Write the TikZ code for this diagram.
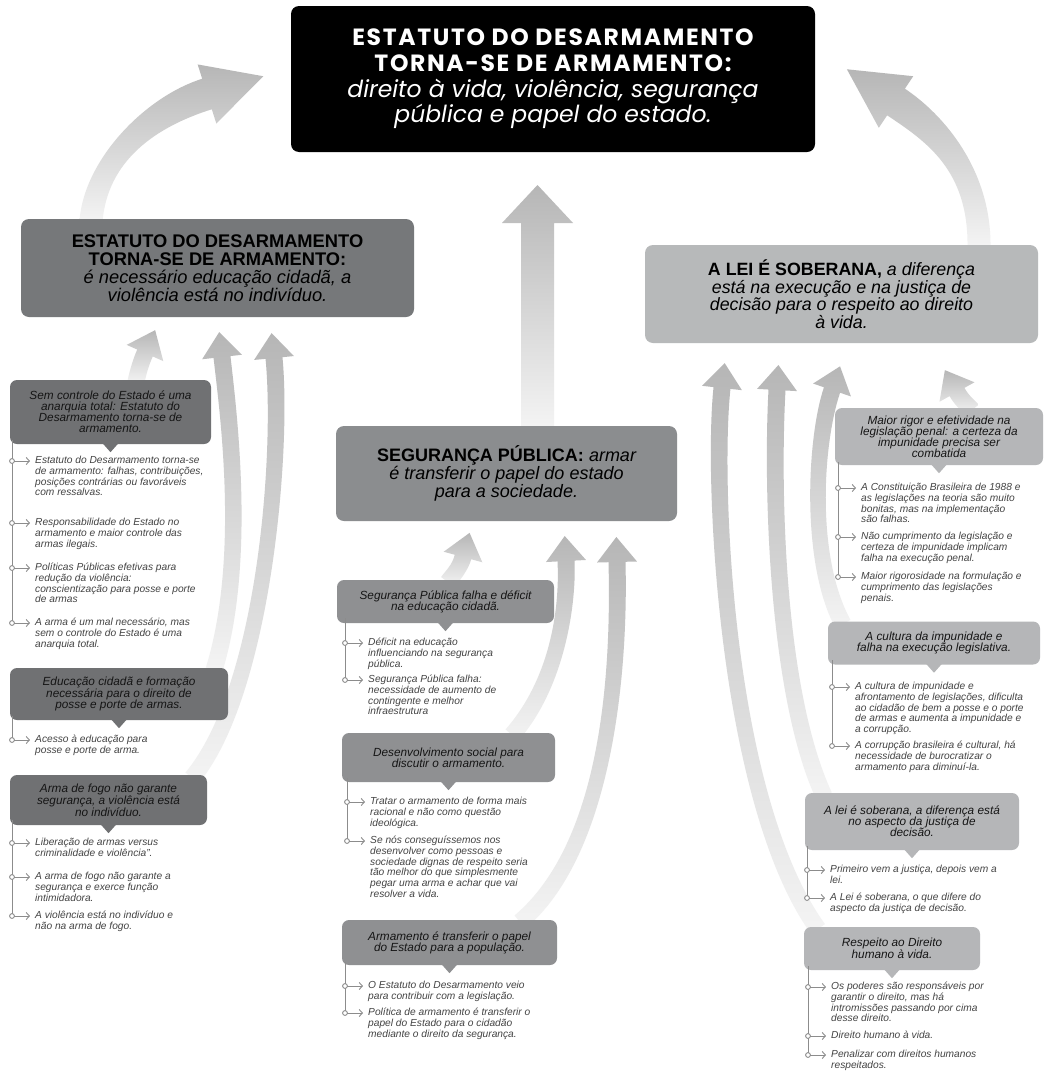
\documentclass[tikz,border=0pt]{standalone}
\usepackage{fontspec}
\setmainfont{Liberation Sans}
\newfontfamily\popf{Poppins}
\newfontfamily\popb[LetterSpace=7]{Poppins}
\usetikzlibrary{calc,arrows.meta}
\definecolor{boxA}{HTML}{76787A}
\definecolor{boxB}{HTML}{8B8D8F}
\definecolor{boxC}{HTML}{B7B9BA}
\definecolor{subA}{HTML}{707173}
\definecolor{subB}{HTML}{8F9092}
\definecolor{subC}{HTML}{B5B6B8}
\definecolor{ahead}{HTML}{B6B6B6}
\definecolor{atail}{HTML}{F4F4F4}
\definecolor{tline}{HTML}{8C8C8C}
\definecolor{itxt}{HTML}{444444}
\definecolor{ttxt}{HTML}{151515}
% fat curved arrow: P0 P1 P2 P3, tail half width, head-base half width, head half width, head length
\newcommand\fatarrow[8]{%
\shade[top color=ahead, bottom color=atail]
 ($(#1)!#5!90:(#2)$) .. controls ($(#2)!#5!-90:(#1)$) and ($(#3)!#6!90:(#4)$) .. ($(#4)!#6!-90:(#3)$)
 -- ($(#4)!#7!-90:(#3)$) -- ($(#4)!-#8!(#3)$) -- ($(#4)!#7!90:(#3)$) -- ($(#4)!#6!90:(#3)$)
 .. controls ($(#3)!#6!-90:(#4)$) and ($(#2)!#5!90:(#1)$) .. ($(#1)!#5!-90:(#2)$) -- cycle;}
\newcommand\subbox[7]{%
 \node[subbox, fill=#2, minimum width=#5pt, minimum height=#6pt] (#1) at (#3,#4) {#7};
 \fill[#2] ($(#1.south)+(-8,-1)$) -- ($(#1.south)+(8,-1)$) -- ($(#1.south)+(0,8)$) -- cycle;}
\newcommand\itm[4]{%
 \draw[tl, fill=white] (#2,#3) circle (2.4);
 \draw[tl, -{Straight Barb[length=3.2pt,width=7pt]}] (#2+2.4,#3) -- (#2+18,#3);
 \node[itemtext] (#1) at (#2+23,#3-6.4) {\rule{0pt}{9pt}#4};}
\begin{document}
\begin{tikzpicture}[x=1pt,y=-1pt,
  mainbox/.style={rounded corners=8pt, inner sep=0pt, align=center},
  subbox/.style={rounded corners=7pt, inner sep=0pt, align=center, text=ttxt,
     font=\itshape\fontsize{11.8}{11}\selectfont},
  itemtext/.style={anchor=north west, inner sep=0pt, align=left, text=itxt,
     font=\itshape\fontsize{10.2}{10.7}\selectfont},
  tl/.style={draw=tline, line width=0.9pt}]
\useasboundingbox[fill=white] (0,0) rectangle (1049,1079);

% ---------- arrows (behind) ----------
\coordinate (ba0) at (91,221);  \coordinate (ba1) at (96,160);  \coordinate (ba2) at (150,112); \coordinate (ba3) at (207,94);
\fatarrow{ba0}{ba1}{ba2}{ba3}{11.5pt}{16pt}{31pt}{59pt}
\coordinate (bb0) at (979,247); \coordinate (bb1) at (980,170); \coordinate (bb2) at (935,128); \coordinate (bb3) at (896,102);
\fatarrow{bb0}{bb1}{bb2}{bb3}{11.5pt}{16pt}{31pt}{59pt}
\coordinate (bc0) at (537.5,428); \coordinate (bc1) at (537.5,350); \coordinate (bc2) at (537.5,300); \coordinate (bc3) at (537.5,223);
\fatarrow{bc0}{bc1}{bc2}{bc3}{16.5pt}{16.5pt}{35.5pt}{38pt}

\coordinate (l10) at (136,382); \coordinate (l11) at (138,372); \coordinate (l12) at (141,362); \coordinate (l13) at (145,353);
\fatarrow{l10}{l11}{l12}{l13}{8.5pt}{8.5pt}{20pt}{25pt}
\coordinate (l20) at (214,670); \coordinate (l21) at (248,560); \coordinate (l22) at (228,410); \coordinate (l23) at (222,357);
\fatarrow{l20}{l21}{l22}{l23}{8.5pt}{8.5pt}{20pt}{25pt}
\coordinate (l30) at (192,778); \coordinate (l31) at (265,690); \coordinate (l32) at (283,450); \coordinate (l33) at (274,358);
\fatarrow{l30}{l31}{l32}{l33}{8.5pt}{8.5pt}{20pt}{25pt}

\coordinate (m10) at (448,582); \coordinate (m11) at (453,575); \coordinate (m12) at (460,568); \coordinate (m13) at (463,557);
\fatarrow{m10}{m11}{m12}{m13}{8.5pt}{8.5pt}{20pt}{25pt}
\coordinate (m20) at (512,735); \coordinate (m21) at (560,680); \coordinate (m22) at (568,600); \coordinate (m23) at (566,561);
\fatarrow{m20}{m21}{m22}{m23}{8.5pt}{8.5pt}{20pt}{25pt}
\coordinate (m30) at (520,922); \coordinate (m31) at (605,850); \coordinate (m32) at (620,680); \coordinate (m33) at (617,562);
\fatarrow{m30}{m31}{m32}{m33}{8.5pt}{8.5pt}{20pt}{25pt}

\coordinate (r10) at (818,929); \coordinate (r11) at (725,800); \coordinate (r12) at (712,480); \coordinate (r13) at (722,388);
\fatarrow{r10}{r11}{r12}{r13}{8.5pt}{8.5pt}{20pt}{25pt}
\coordinate (r20) at (824,796); \coordinate (r21) at (775,690); \coordinate (r22) at (772,480); \coordinate (r23) at (777,390);
\fatarrow{r20}{r21}{r22}{r23}{8.5pt}{8.5pt}{20pt}{25pt}
\coordinate (r30) at (843,624); \coordinate (r31) at (808,560); \coordinate (r32) at (815,440); \coordinate (r33) at (832,390);
\fatarrow{r30}{r31}{r32}{r33}{8.5pt}{8.5pt}{20pt}{25pt}
\coordinate (r40) at (972,410); \coordinate (r41) at (968,405); \coordinate (r42) at (962,401); \coordinate (r43) at (957,392);
\fatarrow{r40}{r41}{r42}{r43}{8.5pt}{8.5pt}{20pt}{25pt}

% ---------- main boxes ----------
\node[mainbox, fill=black, text=white, minimum width=524pt, minimum height=146pt,
  font=\fontsize{23.5}{25.7}\selectfont] (top) at (553,79)
 {{\popb\bfseries ESTATUTO DO DESARMAMENTO}\\{\popb\bfseries TORNA-SE DE ARMAMENTO:}\\
  {\popf\itshape direito à vida, violência, segurança}\\{\popf\itshape pública e papel do estado.}};
\node[mainbox, fill=boxA, text=black, minimum width=393pt, minimum height=98pt,
  font=\fontsize{18.3}{18}\selectfont] (left) at (217.5,268)
 {{\bfseries ESTATUTO DO DESARMAMENTO}\\{\bfseries TORNA-SE DE ARMAMENTO:}\\
  {\itshape é necessário educação cidadã, a}\\{\itshape violência está no indivíduo.}};
\node[mainbox, fill=boxB, text=black, minimum width=341pt, minimum height=95pt,
  font=\fontsize{18}{18}\selectfont] (mid) at (506.5,473.5)
 {{\bfseries SEGURANÇA PÚBLICA:} {\itshape armar}\\{\itshape é transferir o papel do estado}\\
  {\itshape para a sociedade.}};
\node[mainbox, fill=boxC, text=black, minimum width=393pt, minimum height=98pt,
  font=\fontsize{17.8}{16.8}\selectfont] (right) at (841.5,294)
 {{\bfseries A LEI É SOBERANA,} {\itshape a diferença}\\{\itshape está na execução e na justiça de}\\
  {\itshape decisão para o respeito ao direito}\\{\itshape à vida.}};

% ---------- left column ----------
\subbox{ls1}{subA}{110.5}{412}{201}{64}{Sem controle do Estado é uma\\anarquia total: Estatuto do\\Desarmamento torna-se de\\armamento.}
\draw[tl] (12,440) -- (12,623);
\itm{ls1a}{12}{461}{Estatuto do Desarmamento torna-se\\de armamento: falhas, contribuições,\\posições contrárias ou favoráveis\\com ressalvas.}
\itm{ls1b}{12}{523}{Responsabilidade do Estado no\\armamento e maior controle das\\armas ilegais.}
\itm{ls1c}{12}{568}{Políticas Públicas efetivas para\\redução da violência:\\conscientização para posse e porte\\de armas}
\itm{ls1d}{12}{623}{A arma é um mal necessário, mas\\sem o controle do Estado é uma\\anarquia total.}

\subbox{ls2}{subA}{119}{694}{218}{52}{Educação cidadã e formação\\necessária para o direito de\\posse e porte de armas.}
\draw[tl] (12,716) -- (12,740);
\itm{ls2a}{12}{740}{Acesso à educação para\\posse e porte de arma.}

\subbox{ls3}{subA}{108.5}{800}{197}{50}{Arma de fogo não garante\\segurança, a violência está\\no indivíduo.}
\draw[tl] (12,820) -- (12,916);
\itm{ls3a}{12}{843}{Liberação de armas versus\\criminalidade e violência".}
\itm{ls3b}{12}{877}{A arma de fogo não garante a\\segurança e exerce função\\intimidadora.}
\itm{ls3c}{12}{916}{A violência está no indivíduo e\\não na arma de fogo.}

% ---------- middle column ----------
\subbox{ms1}{subB}{445.5}{601.5}{217}{43}{Segurança Pública falha e déficit\\na educação cidadã.}
\draw[tl] (345,618) -- (345,680);
\itm{ms1a}{345}{643}{Déficit na educação\\influenciando na segurança\\pública.}
\itm{ms1b}{345}{680}{Segurança Pública falha:\\necessidade de aumento de\\contingente e melhor\\infraestrutura}

\subbox{ms2}{subB}{448.5}{757.5}{213}{49}{Desenvolvimento social para\\discutir o armamento.}
\draw[tl] (347,778) -- (347,841);
\itm{ms2a}{347}{802}{Tratar o armamento de forma mais\\racional e não como questão\\ideológica.}
\itm{ms2b}{347}{841}{Se nós conseguíssemos nos\\desenvolver como pessoas e\\sociedade dignas de respeito seria\\tão melhor do que simplesmente\\pegar uma arma e achar que vai\\resolver a vida.}

\subbox{ms3}{subB}{449.5}{942.5}{215}{45}{Armamento é transferir o papel\\do Estado para a população.}
\draw[tl] (345,962) -- (345,1013);
\itm{ms3a}{345}{986}{O Estatuto do Desarmamento veio\\para contribuir com a legislação.}
\itm{ms3b}{345}{1013}{Política de armamento é transferir o\\papel do Estado para o cidadão\\mediante o direito da segurança.}

% ---------- right column ----------
\subbox{rs1}{subC}{939}{436.5}{208}{57}{Maior rigor e efetividade na\\legislação penal: a certeza da\\impunidade precisa ser\\combatida}
\draw[tl] (838,462) -- (838,577);
\itm{rs1a}{838}{488}{A Constituição Brasileira de 1988 e\\as legislações na teoria são muito\\bonitas, mas na implementação\\são falhas.}
\itm{rs1b}{838}{537}{Não cumprimento da legislação e\\certeza de impunidade implicam\\falha na execução penal.}
\itm{rs1c}{838}{577}{Maior rigorosidade na formulação e\\cumprimento das legislações\\penais.}

\subbox{rs2}{subC}{934}{643}{212}{43}{A cultura da impunidade e\\falha na execução legislativa.}
\draw[tl] (832,660) -- (832,746);
\itm{rs2a}{832}{687}{A cultura de impunidade e\\afrontamento de legislações, dificulta\\ao cidadão de bem a posse e o porte\\de armas e aumenta a impunidade e\\a corrupção.}
\itm{rs2b}{832}{746}{A corrupção brasileira é cultural, há\\necessidade de burocratizar o\\armamento para diminuí-la.}

\subbox{rs3}{subC}{912}{821.5}{214}{57}{A lei é soberana, a diferença está\\no aspecto da justiça de\\decisão.}
\draw[tl] (807,846) -- (807,898);
\itm{rs3a}{807}{870}{Primeiro vem a justiça, depois vem a\\lei.}
\itm{rs3b}{807}{898}{A Lei é soberana, o que difere do\\aspecto da justiça de decisão.}

\subbox{rs4}{subC}{892}{948.5}{176}{43}{Respeito ao Direito\\humano à vida.}
\draw[tl] (808,966) -- (808,1055);
\itm{rs4a}{808}{987}{Os poderes são responsáveis por\\garantir o direito, mas há\\intromissões passando por cima\\desse direito.}
\itm{rs4b}{808}{1036}{Direito humano à vida.}
\itm{rs4c}{808}{1055}{Penalizar com direitos humanos\\respeitados.}
\end{tikzpicture}
\end{document}
